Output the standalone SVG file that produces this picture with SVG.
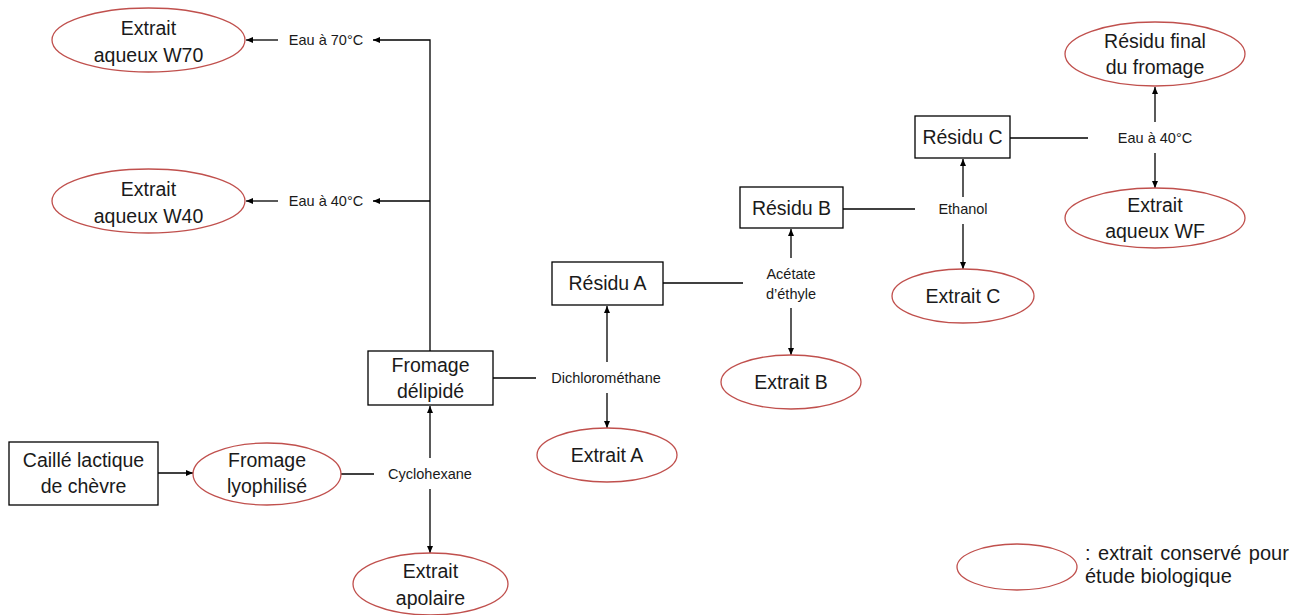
<svg xmlns="http://www.w3.org/2000/svg" width="1306" height="615" viewBox="0 0 1306 615">
<style>
text{font-family:"Liberation Sans",Arial,sans-serif;fill:#1a1a1a;text-anchor:middle}
.n{font-size:19.5px}
.l{font-size:14.5px}
.lg{font-size:20px;text-anchor:start}
.box{fill:#fff;stroke:#000;stroke-width:1.3}
.ell{fill:#fff;stroke:#c0504d;stroke-width:1.3}
.c{fill:none;stroke:#000;stroke-width:1.3}
.a{marker-end:url(#ah)}
</style>
<defs>
<marker id="ah" markerUnits="userSpaceOnUse" markerWidth="7" markerHeight="6" refX="7" refY="3" orient="auto">
<path d="M0,0 L7,3 L0,6 z" fill="#000"/>
</marker>
</defs>
<rect width="1306" height="615" fill="#fff"/>
<g id="connectors">
<line class="c a" x1="158" y1="473" x2="193" y2="473"/>
<line class="c" x1="341" y1="474" x2="374" y2="474"/>
<line class="c a" x1="430" y1="458" x2="430" y2="406"/>
<line class="c a" x1="430" y1="489" x2="430" y2="553"/>
<polyline class="c a" points="430,351 430,40 373,40"/>
<line class="c a" x1="430" y1="201" x2="373" y2="201"/>
<line class="c a" x1="278" y1="40" x2="246" y2="40"/>
<line class="c a" x1="278" y1="201" x2="246" y2="201"/>
<line class="c" x1="493" y1="378" x2="536" y2="378"/>
<line class="c a" x1="607" y1="362" x2="607" y2="306"/>
<line class="c a" x1="607" y1="393" x2="607" y2="428"/>
<line class="c" x1="663" y1="283" x2="743" y2="283"/>
<line class="c a" x1="791" y1="258" x2="791" y2="229"/>
<line class="c a" x1="791" y1="308" x2="791" y2="355"/>
<line class="c" x1="843" y1="209" x2="915" y2="209"/>
<line class="c a" x1="963" y1="197" x2="963" y2="159"/>
<line class="c a" x1="963" y1="224" x2="963" y2="269"/>
<line class="c" x1="1010" y1="138" x2="1088" y2="138"/>
<line class="c a" x1="1155" y1="122" x2="1155" y2="87"/>
<line class="c a" x1="1155" y1="153" x2="1155" y2="188"/>
<text class="l" x="430" y="479">Cyclohexane</text>
<text class="l" x="326" y="45">Eau à 70°C</text>
<text class="l" x="326" y="206">Eau à 40°C</text>
<text class="l" x="606" y="383">Dichlorométhane</text>
<text class="l" x="791" y="279">Acétate</text>
<text class="l" x="791" y="299">d’éthyle</text>
<text class="l" x="963" y="214">Ethanol</text>
<text class="l" x="1155" y="143">Eau à 40°C</text>
</g>
<g id="caille">
<rect class="box" x="9" y="442" width="149" height="63"/>
<text class="n" x="83.5" y="467">Caillé lactique</text>
<text class="n" x="83.5" y="493">de chèvre</text>
</g>
<g id="lyophilise">
<ellipse class="ell" cx="267" cy="474" rx="74" ry="31"/>
<text class="n" x="267" y="467">Fromage</text>
<text class="n" x="267" y="493">lyophilisé</text>
</g>
<g id="apolaire">
<ellipse class="ell" cx="430.5" cy="584" rx="77.5" ry="31"/>
<text class="n" x="430.5" y="578">Extrait</text>
<text class="n" x="430.5" y="605">apolaire</text>
</g>
<g id="delipide">
<rect class="box" x="368" y="351" width="125" height="54"/>
<text class="n" x="430.5" y="372">Fromage</text>
<text class="n" x="430.5" y="398">délipidé</text>
</g>
<g id="w70">
<ellipse class="ell" cx="148.5" cy="40" rx="96.5" ry="32"/>
<text class="n" x="148.5" y="35">Extrait</text>
<text class="n" x="148.5" y="62">aqueux W70</text>
</g>
<g id="w40">
<ellipse class="ell" cx="148.5" cy="201" rx="96.5" ry="32"/>
<text class="n" x="148.5" y="196">Extrait</text>
<text class="n" x="148.5" y="223">aqueux W40</text>
</g>
<g id="extraitA">
<ellipse class="ell" cx="607" cy="455" rx="70" ry="27"/>
<text class="n" x="607" y="462">Extrait A</text>
</g>
<g id="residuA">
<rect class="box" x="552" y="262" width="111" height="43"/>
<text class="n" x="607.5" y="290">Résidu A</text>
</g>
<g id="extraitB">
<ellipse class="ell" cx="791" cy="382" rx="70" ry="27"/>
<text class="n" x="791" y="389">Extrait B</text>
</g>
<g id="residuB">
<rect class="box" x="740" y="187" width="103" height="41"/>
<text class="n" x="791.5" y="215">Résidu B</text>
</g>
<g id="extraitC">
<ellipse class="ell" cx="963" cy="296" rx="71" ry="27"/>
<text class="n" x="963" y="303">Extrait C</text>
</g>
<g id="residuC">
<rect class="box" x="915" y="116" width="95" height="42"/>
<text class="n" x="962.5" y="144">Résidu C</text>
</g>
<g id="residuFinal">
<ellipse class="ell" cx="1155" cy="54" rx="90" ry="32"/>
<text class="n" x="1155" y="48">Résidu final</text>
<text class="n" x="1155" y="74">du fromage</text>
</g>
<g id="wf">
<ellipse class="ell" cx="1155" cy="218" rx="90" ry="30"/>
<text class="n" x="1155" y="212">Extrait</text>
<text class="n" x="1155" y="238">aqueux WF</text>
</g>
<g id="legend">
<ellipse class="ell" cx="1017" cy="567" rx="60" ry="23"/>
<text class="lg" x="1085" y="560" word-spacing="2">: extrait conservé pour</text>
<text class="lg" x="1085" y="583">étude biologique</text>
</g>
</svg>
